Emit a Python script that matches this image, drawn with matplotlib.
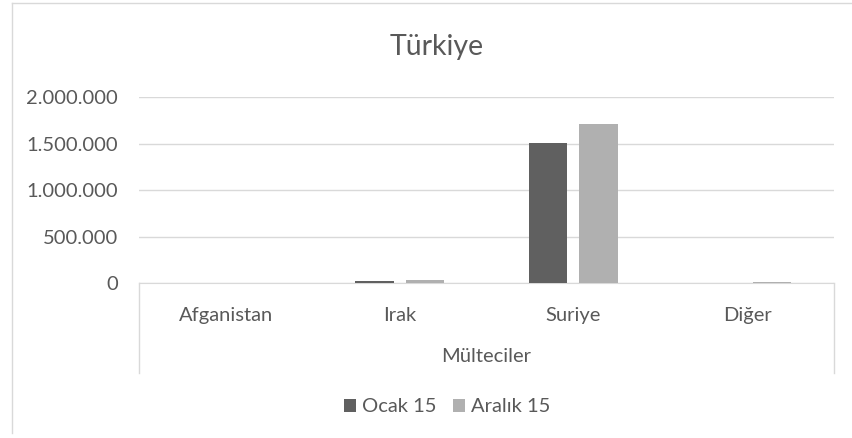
"""Türkiye mülteci sayıları - Ocak 15 / Aralık 15"""

import numpy as np
import matplotlib
matplotlib.use("Agg")
import matplotlib.pyplot as plt
from matplotlib.patches import Patch
from matplotlib.lines import Line2D

# data
categories = ["Afganistan", "Irak", "Suriye", "Diğer"]
ocak_15 = [0, 20000, 1510000, 0]
aralik_15 = [0, 30000, 1715000, 15000]
series_names = ["Ocak 15", "Aralık 15"]
y_ticks = [0, 500000, 1000000, 1500000, 2000000]

DARK = "#606060"
LIGHT = "#b0b0b0"
TEXT = "#595959"
GRID = "#d9d9d9"

plt.rcParams["font.family"] = ["Lato", "DejaVu Sans"]


def fmt(v):
    return f"{int(v):,}".replace(",", ".")


fig = plt.figure(figsize=(8.52, 4.38), dpi=100)
ax = fig.add_axes([139 / 852, 1 - 283 / 438, (834 - 139) / 852, (283 - 97) / 438])

x = np.arange(len(categories))
w = 0.22
off = 0.145
ax.bar(x - off, ocak_15, width=w, color=DARK, zorder=3)
ax.bar(x + off, aralik_15, width=w, color=LIGHT, zorder=3)

ax.set_xlim(-0.5, len(categories) - 0.5)
ax.set_ylim(0, 2000000)
ax.set_yticks(y_ticks)
ax.set_yticklabels([fmt(v) for v in y_ticks], fontsize=14.5, color=TEXT)
ax.tick_params(axis="y", length=0, pad=15)
ax.yaxis.grid(True, color=GRID, linewidth=1)
ax.set_axisbelow(True)

ax.set_xticks(x)
ax.set_xticklabels(categories, fontsize=14.5, color=TEXT)
ax.tick_params(axis="x", length=0, pad=17)

for side in ["top", "right", "left"]:
    ax.spines[side].set_visible(False)
ax.spines["bottom"].set_color(GRID)

# group separators and group label under the category axis
depth = -(373 - 283) / (283 - 97)
for xs in [0, 1]:
    ax.add_line(Line2D([xs, xs], [0, depth], transform=ax.transAxes,
                       color=GRID, linewidth=1, clip_on=False))
ax.text(0.5, -(356 - 283) / (283 - 97), "Mülteciler", transform=ax.transAxes,
        ha="center", va="center", fontsize=14.5, color=TEXT)

fig.text(437 / 852, 1 - 47 / 438, "Türkiye", ha="center", va="center",
         fontsize=20.5, color=TEXT)

handles = [Patch(facecolor=DARK), Patch(facecolor=LIGHT)]
fig.legend(handles, series_names, loc="center", bbox_to_anchor=(447 / 852, 1 - 407 / 438),
           ncol=2, frameon=False, fontsize=14.5, labelcolor=TEXT,
           handlelength=0.6, handleheight=0.6, handletextpad=0.3, columnspacing=0.8)

# chart border (only top and left show in the reference)
fig.add_artist(Line2D([12 / 852, 1], [1 - 3 / 438] * 2, transform=fig.transFigure, color=GRID, linewidth=1))
fig.add_artist(Line2D([12 / 852] * 2, [1 - 433 / 438, 1 - 3 / 438], transform=fig.transFigure, color=GRID, linewidth=1))

fig.savefig("out.png", dpi=100, facecolor="white")
